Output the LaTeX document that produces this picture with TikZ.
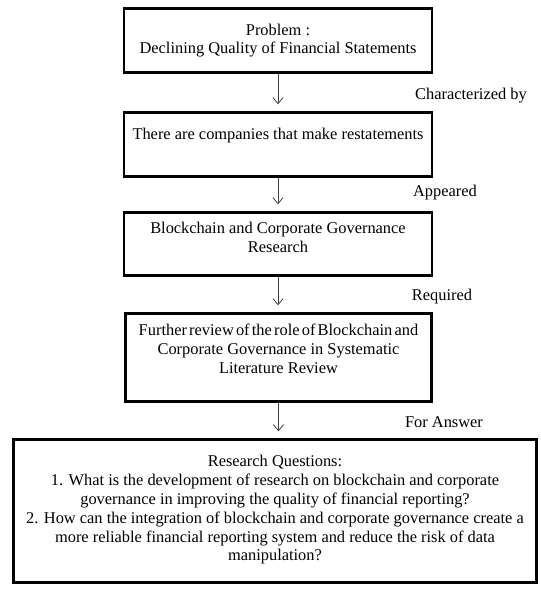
\documentclass[tikz,border=0pt]{standalone}
\usepackage{fontspec}
\setmainfont{Liberation Serif}
\usetikzlibrary{arrows.meta}
\begin{document}
\begin{tikzpicture}[x=1pt,y=-1pt,
  box/.style={draw, line width=2.4pt, inner sep=0pt},
  txt/.style={font=\fontsize{16.4}{18.8}\selectfont, align=center, inner sep=0pt},
  lbl/.style={font=\fontsize{16.4}{18.8}\selectfont, inner sep=0pt},
  flow/.style={draw=black!75, line width=0.8pt, -{Straight Barb[length=6pt,width=10pt]}, shorten >=7pt}]
  \useasboundingbox (0,0) rectangle (541,590);
  % frames
  \node[box, minimum width=308, minimum height=64] (problem) at (278,40.5) {};
  \node[box, minimum width=308, minimum height=64] (restate) at (278,144.5) {};
  \node[box, minimum width=308, minimum height=63] (research) at (278,244) {};
  \node[box, minimum width=306, minimum height=88] (review) at (278.5,357.5) {};
  \node[box, minimum width=523, minimum height=143] (questions) at (275,511) {};
  % texts
  \node[txt] (problemtxt) at (278,40.5) {Problem :\\Declining Quality of Financial Statements};
  \node[txt] (restatetxt) at (278,136) {There are companies that make restatements};
  \node[txt] (researchtxt) at (278,237.5) {Blockchain and Corporate Governance\\Research};
  \node[txt] (reviewtxt) at (278.5,349) {\spaceskip=2.2pt\relax Further review of the role of Blockchain and\\Corporate Governance in Systematic\\Literature Review};
  \node[txt] (questionstxt) at (275,510) {Research Questions:\\
    1. What is the development of research on blockchain and corporate\\
    governance in improving the quality of financial reporting?\\
    2. How can the integration of blockchain and corporate governance create a\\
    more reliable financial reporting system and reduce the risk of data\\
    manipulation?};
  % arrows
  \draw[flow] (problem.south) -- (restate.north);
  \draw[flow] (restate.south) -- (research.north);
  \draw[flow] (research.south) -- (research.south |- review.north);
  \draw[flow] (review.south) -- (review.south |- questions.north);
  % arrow labels
  \node[lbl] (charlbl) at (471,96) {Characterized by};
  \node[lbl] (applbl) at (445,193) {Appeared};
  \node[lbl] (reqlbl) at (442,297) {Required};
  \node[lbl] (anslbl) at (444,422) {For Answer};
\end{tikzpicture}
\end{document}
